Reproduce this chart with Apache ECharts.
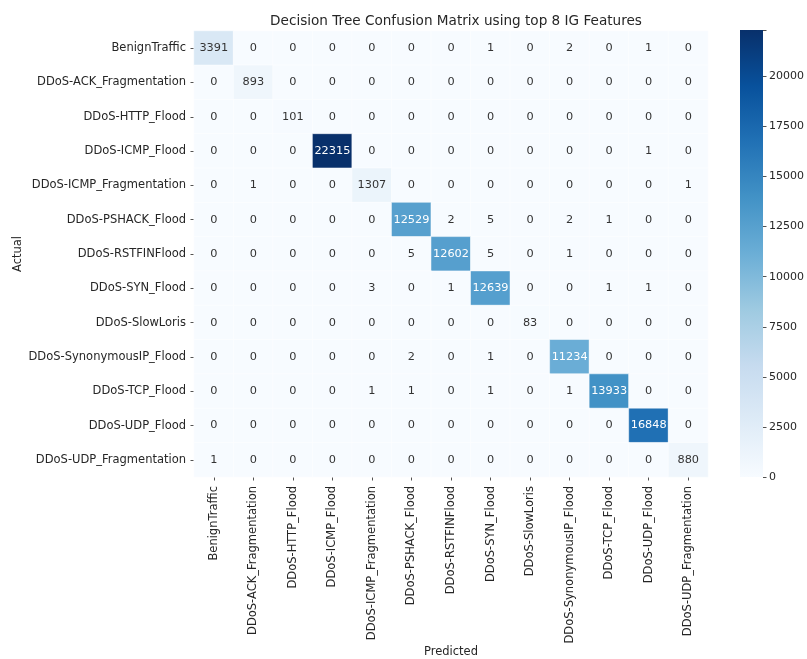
<!DOCTYPE html>
<html>
<head>
<meta charset="utf-8">
<script src="https://cdn.jsdelivr.net/npm/echarts@6/dist/echarts.min.js"></script>
<style>
  html, body { margin: 0; padding: 0; background: #fff; }
  #chart { width: 807px; height: 659px; }
</style>
</head>
<body>
<div id="chart"></div>
<script>
// Class names (same order on both axes)
const classes = [
  'BenignTraffic', 'DDoS-ACK_Fragmentation', 'DDoS-HTTP_Flood', 'DDoS-ICMP_Flood',
  'DDoS-ICMP_Fragmentation', 'DDoS-PSHACK_Flood', 'DDoS-RSTFINFlood', 'DDoS-SYN_Flood',
  'DDoS-SlowLoris', 'DDoS-SynonymousIP_Flood', 'DDoS-TCP_Flood', 'DDoS-UDP_Flood',
  'DDoS-UDP_Fragmentation'
];

// One row of counts per actual class, columns are predicted classes
const rowBenignTraffic   = [3391, 0, 0, 0, 0, 0, 0, 1, 0, 2, 0, 1, 0];
const rowAckFrag         = [0, 893, 0, 0, 0, 0, 0, 0, 0, 0, 0, 0, 0];
const rowHttpFlood       = [0, 0, 101, 0, 0, 0, 0, 0, 0, 0, 0, 0, 0];
const rowIcmpFlood       = [0, 0, 0, 22315, 0, 0, 0, 0, 0, 0, 0, 1, 0];
const rowIcmpFrag        = [0, 1, 0, 0, 1307, 0, 0, 0, 0, 0, 0, 0, 1];
const rowPshackFlood     = [0, 0, 0, 0, 0, 12529, 2, 5, 0, 2, 1, 0, 0];
const rowRstfinFlood     = [0, 0, 0, 0, 0, 5, 12602, 5, 0, 1, 0, 0, 0];
const rowSynFlood        = [0, 0, 0, 0, 3, 0, 1, 12639, 0, 0, 1, 1, 0];
const rowSlowLoris       = [0, 0, 0, 0, 0, 0, 0, 0, 83, 0, 0, 0, 0];
const rowSynonymousIp    = [0, 0, 0, 0, 0, 2, 0, 1, 0, 11234, 0, 0, 0];
const rowTcpFlood        = [0, 0, 0, 0, 1, 1, 0, 1, 0, 1, 13933, 0, 0];
const rowUdpFlood        = [0, 0, 0, 0, 0, 0, 0, 0, 0, 0, 0, 16848, 0];
const rowUdpFrag         = [1, 0, 0, 0, 0, 0, 0, 0, 0, 0, 0, 0, 880];

const counts = [
  rowBenignTraffic, rowAckFrag, rowHttpFlood, rowIcmpFlood, rowIcmpFrag,
  rowPshackFlood, rowRstfinFlood, rowSynFlood, rowSlowLoris, rowSynonymousIp,
  rowTcpFlood, rowUdpFlood, rowUdpFrag
];

// Colour bar tick values
const colorbarTicks = [0, 2500, 5000, 7500, 10000, 12500, 15000, 17500, 20000];

// Blues colormap stops
const blues = ['#f7fbff', '#deebf7', '#c6dbef', '#9ecae1', '#6baed6',
               '#4292c6', '#2171b5', '#08519c', '#08306b'];

const vmax = Math.max(...counts.map(r => Math.max(...r)));

function hexToRgb(h) {
  return [parseInt(h.slice(1, 3), 16), parseInt(h.slice(3, 5), 16), parseInt(h.slice(5, 7), 16)];
}
function cmap(t) {
  const p = Math.min(Math.max(t, 0), 1) * (blues.length - 1);
  const i = Math.min(Math.floor(p), blues.length - 2);
  const f = p - i;
  const a = hexToRgb(blues[i]), b = hexToRgb(blues[i + 1]);
  return a.map((v, k) => v + (b[k] - v) * f);
}
function luminance(rgb) {
  const lin = rgb.map(v => {
    const c = v / 255;
    return c <= 0.03928 ? c / 12.92 : Math.pow((c + 0.055) / 1.055, 2.4);
  });
  return 0.2126 * lin[0] + 0.7152 * lin[1] + 0.0722 * lin[2];
}

// Heatmap cells: [predicted index, actual index, count]
const cells = [];
counts.forEach((row, r) => {
  row.forEach((v, c) => {
    const lum = luminance(cmap(v / vmax));
    cells.push({
      value: [c, r, v],
      label: { color: lum > 0.408 ? '#333333' : '#ffffff' }
    });
  });
});

const fontFamily = '"DejaVu Sans", sans-serif';
const textColor = '#262626';
const tickFont = 11.5;

const chart = echarts.init(document.getElementById('chart'), null, { renderer: 'canvas' });

chart.setOption({
  backgroundColor: '#ffffff',
  animation: false,
  textStyle: { fontFamily: fontFamily },
  title: {
    text: 'Decision Tree Confusion Matrix using top 8 IG Features',
    left: 451,
    top: 9,
    textAlign: 'center',
    textStyle: { fontFamily: fontFamily, fontSize: 13.6, fontWeight: 'normal', color: textColor }
  },
  // Axis titles
  graphic: [
    {
      type: 'text',
      x: 451, y: 652,
      style: {
        text: 'Predicted', fill: textColor, fontFamily: fontFamily, fontSize: tickFont,
        textAlign: 'center', textVerticalAlign: 'middle'
      }
    },
    {
      type: 'text',
      x: 18, y: 254,
      rotation: Math.PI / 2,
      style: {
        text: 'Actual', fill: textColor, fontFamily: fontFamily, fontSize: tickFont,
        textAlign: 'center', textVerticalAlign: 'middle'
      }
    }
  ],
  grid: [
    { left: 194, top: 31, width: 514, height: 446, containLabel: false, outerBoundsMode: 'none' },
    { left: 740, top: 30, width: 23, height: 447, containLabel: false, outerBoundsMode: 'none' }
  ],
  xAxis: [
    {
      type: 'category',
      gridIndex: 0,
      data: classes,
      axisLine: { show: false },
      axisTick: { show: true, alignWithLabel: true, length: 3.5, lineStyle: { color: textColor, width: 0.8 } },
      axisLabel: { rotate: 90, margin: 9, fontSize: tickFont, color: textColor, fontFamily: fontFamily },
      splitLine: { show: false }
    },
    {
      type: 'category',
      gridIndex: 1,
      data: [''],
      show: false
    }
  ],
  yAxis: [
    {
      type: 'category',
      gridIndex: 0,
      data: classes,
      inverse: true,
      axisLine: { show: false },
      axisTick: { show: true, alignWithLabel: true, length: 3.5, lineStyle: { color: textColor, width: 0.8 } },
      axisLabel: { margin: 8, fontSize: tickFont, color: textColor, fontFamily: fontFamily },
      splitLine: { show: false }
    },
    {
      type: 'value',
      gridIndex: 1,
      position: 'right',
      min: 0,
      max: vmax,
      interval: 2500,
      axisLine: { show: false },
      axisTick: { show: true, length: 3.5, lineStyle: { color: textColor, width: 0.8 } },
      axisLabel: {
        margin: 6, fontSize: 11, color: textColor, fontFamily: fontFamily,
        formatter: v => (colorbarTicks.includes(v) ? String(v) : '')
      },
      splitLine: { show: false }
    }
  ],
  visualMap: {
    type: 'continuous',
    show: false,
    seriesIndex: 0,
    dimension: 2,
    min: 0,
    max: vmax,
    inRange: { color: blues }
  },
  series: [
    {
      type: 'heatmap',
      xAxisIndex: 0,
      yAxisIndex: 0,
      data: cells,
      itemStyle: { borderColor: '#ffffff', borderWidth: 0.5 },
      label: {
        show: true,
        fontSize: 11.3,
        fontFamily: fontFamily,
        formatter: p => String(p.value[2])
      },
      emphasis: { disabled: true }
    },
    {
      // Colour bar drawn as a single full-height bar with the Blues gradient
      type: 'bar',
      xAxisIndex: 1,
      yAxisIndex: 1,
      data: [vmax],
      barWidth: '100%',
      silent: true,
      itemStyle: {
        color: {
          type: 'linear', x: 0, y: 1, x2: 0, y2: 0,
          colorStops: blues.map((c, i) => ({ offset: i / (blues.length - 1), color: c }))
        }
      }
    }
  ]
});
</script>
</body>
</html>
